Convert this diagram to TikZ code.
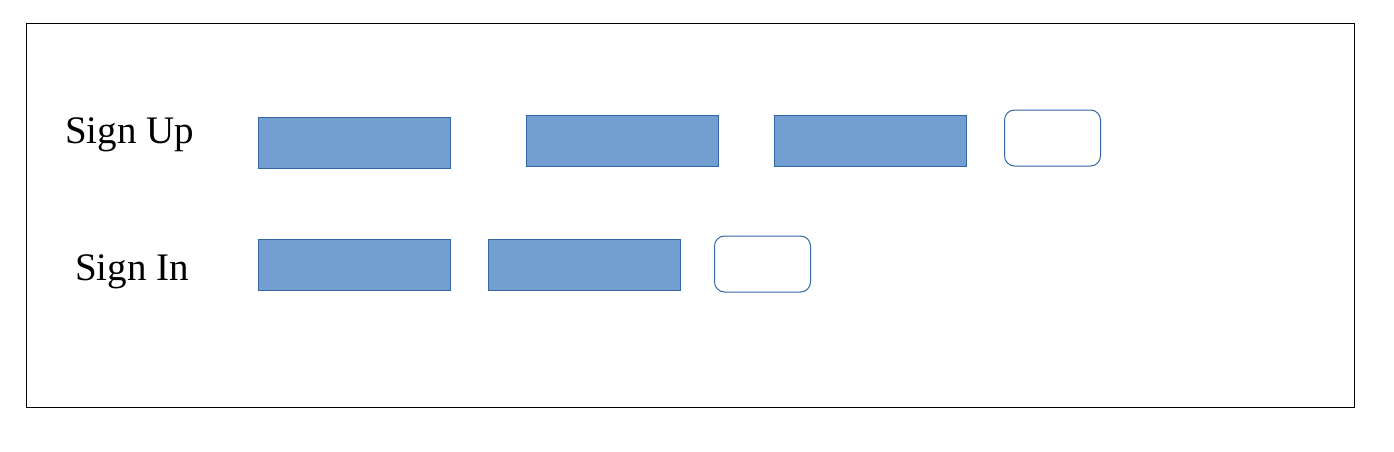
\documentclass[tikz,border=0pt]{standalone}
\usepackage{fontspec}
\setmainfont{Liberation Serif}
\begin{document}
\begin{tikzpicture}[x=1pt,y=-1pt,
  field/.style={draw=fieldline,fill=fieldfill,line width=1pt,minimum width=192pt,minimum height=51pt,inner sep=0pt,anchor=north west},
  btn/.style={draw=fieldline,fill=white,line width=1pt,rounded corners=10pt,minimum width=96pt,minimum height=56pt,inner sep=0pt,anchor=north west},
  lbl/.style={font=\fontsize{39}{44}\selectfont,anchor=base west,inner sep=0pt}]
\definecolor{fieldfill}{HTML}{729FCF}
\definecolor{fieldline}{HTML}{3465A4}
\useasboundingbox (0,0) rectangle (1394,452);
\draw[line width=1pt] (26,24) rectangle (1354,407);
\node[lbl] (su) at (65,143) {Sign Up};
\node[lbl] (si) at (75,280) {Sign In};
\node[field] (u1) at (258,117) {};
\node[field] (u2) at (526,115) {};
\node[field] (u3) at (774,115) {};
\node[btn] (ub) at (1004,109.5) {};
\node[field] (i1) at (258,239) {};
\node[field] (i2) at (488,239) {};
\node[btn] (ib) at (714,235.5) {};
\end{tikzpicture}
\end{document}
